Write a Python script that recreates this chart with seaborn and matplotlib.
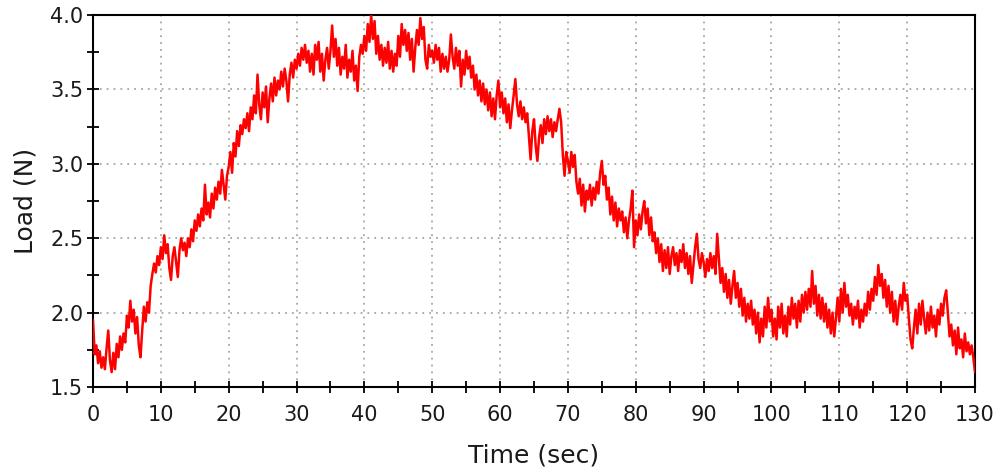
import numpy as np
import pandas as pd
import matplotlib
matplotlib.use("Agg")
import matplotlib.pyplot as plt
from matplotlib.ticker import MultipleLocator
import seaborn as sns

# Sampling step of the recording (seconds)
SAMPLE_STEP = 0.25

# Load readings (N), one list per 10-second block, 4 samples per second
load_00_10 = [1.95, 1.72, 1.78, 1.66, 1.74, 1.63, 1.70, 1.62, 1.76, 1.88,
              1.68, 1.60, 1.73, 1.62, 1.79, 1.70, 1.84, 1.75, 1.86, 1.80,
              1.98, 1.90, 2.08, 1.94, 2.02, 1.86, 1.97, 1.78, 1.70, 1.88,
              2.04, 1.94, 2.07, 2.00, 2.18, 2.26, 2.33, 2.27, 2.38, 2.32]
load_10_20 = [2.44, 2.36, 2.52, 2.40, 2.46, 2.30, 2.22, 2.38, 2.44, 2.34,
              2.24, 2.42, 2.50, 2.42, 2.47, 2.38, 2.50, 2.44, 2.56, 2.48,
              2.62, 2.55, 2.66, 2.58, 2.70, 2.62, 2.86, 2.66, 2.74, 2.64,
              2.80, 2.70, 2.84, 2.76, 2.88, 2.80, 2.96, 2.86, 2.76, 2.92]
load_20_30 = [2.98, 3.08, 2.94, 3.14, 3.05, 3.22, 3.12, 3.26, 3.20, 3.30,
              3.24, 3.34, 3.22, 3.38, 3.30, 3.46, 3.34, 3.60, 3.40, 3.30,
              3.48, 3.38, 3.52, 3.28, 3.44, 3.54, 3.42, 3.58, 3.46, 3.56,
              3.50, 3.62, 3.52, 3.64, 3.56, 3.42, 3.60, 3.68, 3.58, 3.70]
load_30_40 = [3.64, 3.74, 3.66, 3.78, 3.70, 3.80, 3.68, 3.76, 3.62, 3.74,
              3.60, 3.80, 3.70, 3.82, 3.62, 3.74, 3.56, 3.70, 3.78, 3.64,
              3.76, 3.93, 3.72, 3.84, 3.66, 3.78, 3.60, 3.72, 3.64, 3.80,
              3.58, 3.70, 3.62, 3.76, 3.56, 3.66, 3.49, 3.72, 3.80, 3.74]
load_40_50 = [3.86, 3.76, 3.94, 3.82, 4.00, 3.84, 3.96, 3.74, 3.86, 3.70,
              3.80, 3.66, 3.78, 3.68, 3.82, 3.64, 3.76, 3.62, 3.74, 3.66,
              3.86, 3.72, 3.94, 3.80, 3.90, 3.76, 3.88, 3.70, 3.84, 3.62,
              3.78, 3.90, 3.80, 3.98, 3.84, 3.92, 3.70, 3.64, 3.80, 3.72]
load_50_60 = [3.76, 3.68, 3.80, 3.70, 3.78, 3.62, 3.74, 3.64, 3.72, 3.62,
              3.70, 3.87, 3.72, 3.64, 3.78, 3.66, 3.76, 3.52, 3.70, 3.60,
              3.76, 3.64, 3.72, 3.58, 3.66, 3.50, 3.60, 3.46, 3.56, 3.42,
              3.54, 3.40, 3.50, 3.36, 3.48, 3.32, 3.44, 3.30, 3.46, 3.56]
load_60_70 = [3.38, 3.48, 3.34, 3.44, 3.28, 3.40, 3.24, 3.36, 3.46, 3.57,
              3.40, 3.32, 3.42, 3.30, 3.38, 3.28, 3.34, 3.18, 3.03, 3.22,
              3.30, 3.12, 3.02, 3.18, 3.26, 3.14, 3.30, 3.20, 3.32, 3.22,
              3.30, 3.18, 3.28, 3.22, 3.30, 3.37, 3.28, 3.06, 2.92, 3.08]
load_70_80 = [3.02, 2.94, 3.08, 2.98, 3.06, 2.88, 2.80, 2.90, 2.72, 2.86,
              2.68, 2.82, 2.76, 2.86, 2.72, 2.84, 2.76, 2.88, 2.80, 2.94,
              3.02, 2.86, 2.92, 2.76, 2.84, 2.66, 2.78, 2.62, 2.74, 2.58,
              2.70, 2.62, 2.68, 2.54, 2.64, 2.50, 2.62, 2.70, 2.82, 2.44]
load_80_90 = [2.62, 2.52, 2.66, 2.56, 2.68, 2.75, 2.60, 2.70, 2.52, 2.64,
              2.48, 2.54, 2.40, 2.50, 2.34, 2.46, 2.28, 2.42, 2.30, 2.44,
              2.26, 2.38, 2.44, 2.32, 2.40, 2.28, 2.42, 2.34, 2.46, 2.30,
              2.40, 2.26, 2.38, 2.20, 2.32, 2.44, 2.53, 2.36, 2.30, 2.40]
load_90_100 = [2.34, 2.24, 2.36, 2.28, 2.40, 2.30, 2.38, 2.26, 2.53, 2.36,
               2.20, 2.30, 2.14, 2.26, 2.10, 2.22, 2.06, 2.18, 2.28, 2.10,
               2.20, 2.04, 2.16, 1.98, 2.10, 1.94, 2.06, 1.96, 2.08, 1.92,
               2.02, 1.86, 2.00, 1.80, 1.96, 1.84, 2.04, 1.90, 2.10, 1.94]
load_100_110 = [2.02, 1.84, 1.96, 1.82, 2.04, 1.90, 2.06, 1.86, 1.98, 1.84,
                2.04, 1.92, 2.10, 1.96, 2.06, 1.90, 2.08, 1.94, 2.12, 2.00,
                2.14, 2.02, 2.16, 2.04, 2.28, 2.06, 2.18, 1.98, 2.12, 1.96,
                2.10, 1.94, 2.06, 1.90, 2.02, 1.86, 2.00, 1.84, 1.96, 2.10]
load_110_120 = [1.94, 2.16, 2.00, 2.20, 2.04, 2.12, 1.98, 2.06, 1.92, 2.04,
                1.96, 2.08, 1.90, 2.02, 1.94, 2.06, 1.98, 2.14, 2.02, 2.16,
                2.08, 2.24, 2.12, 2.32, 2.18, 2.26, 2.10, 2.22, 2.04, 2.18,
                2.00, 2.14, 1.94, 2.08, 1.92, 2.04, 2.12, 2.02, 2.20, 2.08]
load_120_130 = [2.12, 1.96, 1.82, 1.76, 1.90, 2.02, 1.86, 2.06, 1.92, 2.08,
                1.96, 1.86, 2.00, 1.88, 2.04, 1.90, 1.98, 1.84, 2.02, 1.92,
                2.06, 1.98, 2.10, 2.15, 2.00, 1.84, 1.92, 1.78, 1.88, 1.72,
                1.90, 1.76, 1.82, 1.70, 1.86, 1.74, 1.80, 1.72, 1.78, 1.70,
                1.60]

x_ticks = [0, 10, 20, 30, 40, 50, 60, 70, 80, 90, 100, 110, 120, 130]
y_ticks = [1.5, 2.0, 2.5, 3.0, 3.5, 4.0]

load = (load_00_10 + load_10_20 + load_20_30 + load_30_40 + load_40_50
        + load_50_60 + load_60_70 + load_70_80 + load_80_90 + load_90_100
        + load_100_110 + load_110_120 + load_120_130)
time = np.arange(len(load)) * SAMPLE_STEP
df = pd.DataFrame({"Time (sec)": time, "Load (N)": load})

sns.set_style("white")
text_color = "#1a1a1a"
plt.rcParams["font.family"] = ["DejaVu Sans"]

fig = plt.figure(figsize=(10, 4.72), dpi=100)
ax = fig.add_axes([0.093, 0.18, 0.882, 0.788])

sns.lineplot(data=df, x="Time (sec)", y="Load (N)", color="#ff0000",
             linewidth=1.8, ax=ax, zorder=3)

ax.set_xlim(0, 130)
ax.set_ylim(1.5, 4.0)
ax.set_xticks(x_ticks)
ax.set_yticks(y_ticks)
ax.set_yticklabels([f"{v:.1f}" for v in y_ticks])
ax.xaxis.set_minor_locator(MultipleLocator(5))
ax.yaxis.set_minor_locator(MultipleLocator(0.25))

ax.grid(True, which="major", color="#a8a898", linestyle=(0, (1, 2.8)),
        linewidth=1.3)

for s in ax.spines.values():
    s.set_color("black")
    s.set_linewidth(1.5)

ax.tick_params(axis="x", which="both", bottom=True, direction="inout",
               length=8, width=1.3, color="black", labelsize=15,
               labelcolor=text_color, pad=9)
ax.tick_params(axis="y", which="both", left=True, direction="inout",
               length=8, width=1.3, color="black", labelsize=15,
               labelcolor=text_color, pad=3)

ax.set_xlabel("Time (sec)", fontsize=18, color=text_color, labelpad=13)
ax.set_ylabel("Load (N)", fontsize=18, color=text_color, labelpad=9)

fig.savefig("out.png", dpi=100)
